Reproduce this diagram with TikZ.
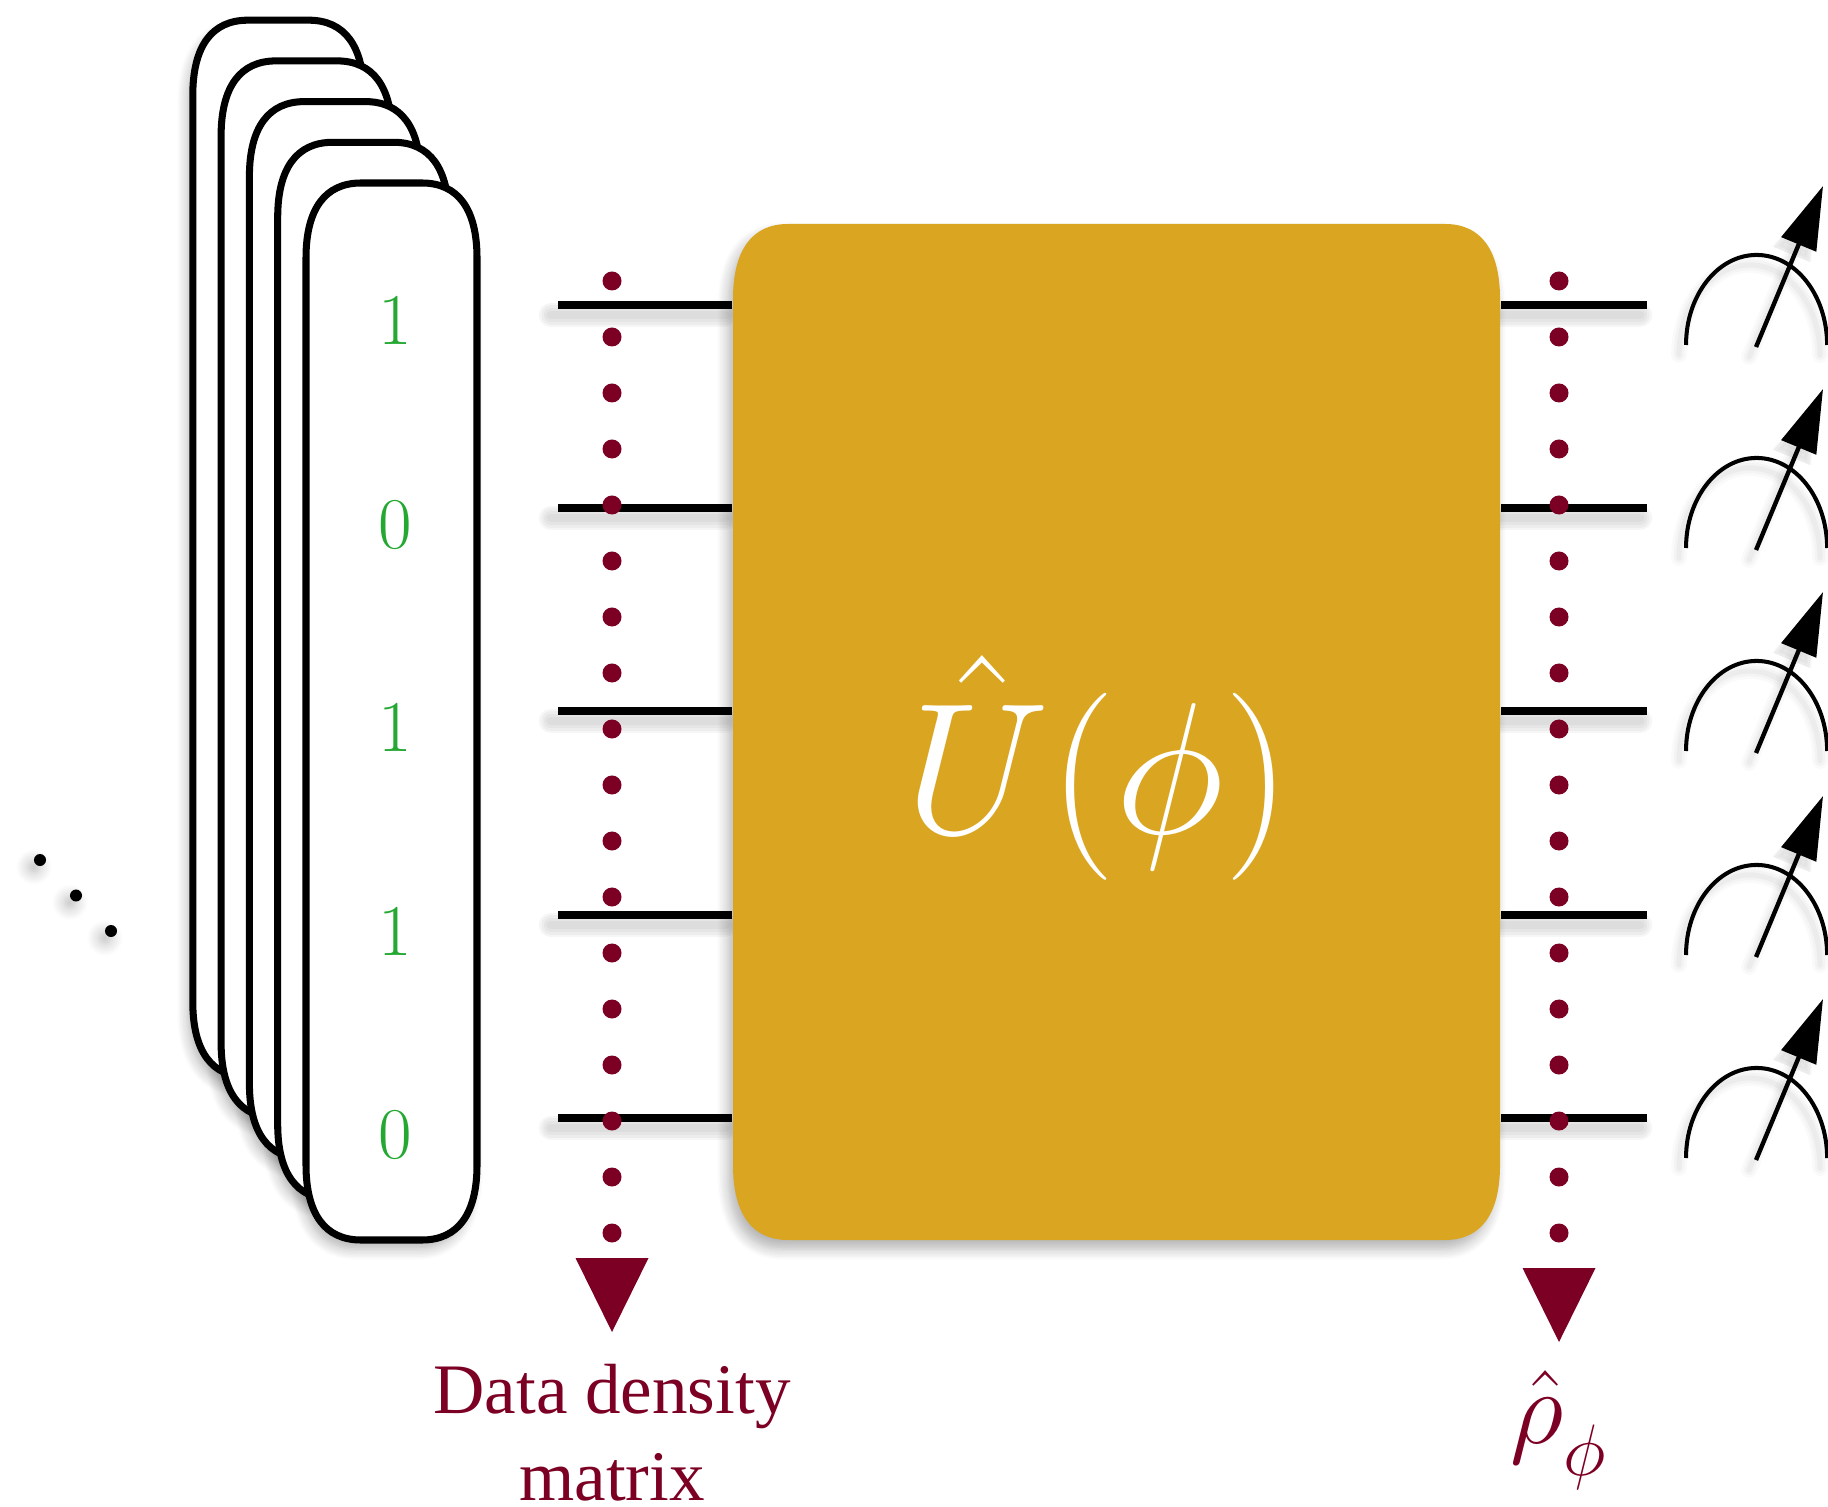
\documentclass[tikz,border=0pt]{standalone}
\usepackage{fontspec}
\usepackage{amsmath}
\setmainfont{Liberation Serif}
\usetikzlibrary{calc,arrows.meta,shadows.blur}
\definecolor{wine}{RGB}{124,0,35}
\definecolor{gatecolor}{RGB}{218,165,32}
\definecolor{bitgreen}{RGB}{36,168,50}
\DeclareMathSizes{24.88}{24.88}{17.28}{12}
\newcommand{\softbox}[4]{(#1,#2+75) .. controls (#1,#2+26) and (#1+19,#2) .. (#1+55,#2)
  -- (#3-55,#2) .. controls (#3-19,#2) and (#3,#2+26) .. (#3,#2+75)
  -- (#3,#4-75) .. controls (#3,#4-26) and (#3-19,#4) .. (#3-55,#4)
  -- (#1+55,#4) .. controls (#1+19,#4) and (#1,#4-26) .. (#1,#4-75) -- cycle}

\begin{document}
\begin{tikzpicture}[
  x=0.01cm, y=-0.01cm,
  softshadow/.style={blur shadow={shadow xshift=-0.05cm, shadow yshift=-0.09cm,
    shadow blur radius=0.11cm, shadow blur steps=8, shadow opacity=30}},
  softstroke/.style 2 args={preaction={draw=black, opacity=#2, line width=#1, line cap=round,
    transform canvas={xshift=-0.07cm, yshift=-0.1cm}}},
  lineshadow/.style={softstroke={7pt}{0.035}, softstroke={5.5pt}{0.035}, softstroke={4pt}{0.035}, softstroke={2.5pt}{0.035}},
  thinshadow/.style={softstroke={4.5pt}{0.02}, softstroke={3pt}{0.025}, softstroke={1.5pt}{0.03}},
  datacard/.style={draw, fill=white, line width=2pt},
  bitlabel/.style={text=bitgreen, inner sep=0pt, font=\fontsize{22}{26}\selectfont},
  gatebox/.style={fill=gatecolor, softshadow},
  wire/.style={line width=2pt, lineshadow},
  winedot/.style={circle, fill=wine, minimum size=0.19cm, inner sep=0pt},
  blackdot/.style={circle, fill=black, minimum size=0.12cm, inner sep=0pt,
    blur shadow={shadow xshift=-0.06cm, shadow yshift=-0.07cm,
    shadow blur radius=0.12cm, shadow blur steps=8, shadow opacity=25}},
  meterarc/.style={line width=1.15pt, thinshadow},
  meterneedle/.style={line width=1.25pt, thinshadow, -{Triangle[length=18pt, width=10.5pt, fill=black]}}
]
\useasboundingbox (0,0) rectangle (1828,1507);

\foreach \i/\x/\y in {1/40/860, 2/76/895.5, 3/111/931}
  \node[blackdot] (ell\i) at (\x,\y) {};

\foreach \i in {4,3,2,1,0}
  \path[fill=white, softshadow] \softbox{306-28.3*\i}{183-40.7*\i}{477-28.3*\i}{1240-40.7*\i};
\foreach \i in {4,3,2,1,0}
  \path[datacard] \softbox{306-28.3*\i}{183-40.7*\i}{477-28.3*\i}{1240-40.7*\i};

\foreach \i/\b/\y in {1/1/321, 2/0/525, 3/1/728, 4/1/932, 5/0/1135}
  \node[bitlabel] (bit\i) at (395,\y) {$\b$};

\node[inner sep=0pt, minimum width=7.67cm, minimum height=10.16cm] (gate) at (1116.5,732) {};

\foreach \i/\y in {1/305, 2/508, 3/711, 4/915, 5/1118} {
  \coordinate (wl\i) at (558,\y);
  \coordinate (wr\i) at (1647,\y);
  \draw[wire] (wl\i) -- (gate.west |- wl\i);
  \draw[wire] (gate.east |- wr\i) -- (wr\i);
  \coordinate (ms\i) at (1756,\y+42);
  \coordinate (mt\i) at (1823,\y-119);
  \draw[meterarc] (1686,\y+40) arc[start angle=180, end angle=0, x radius=0.705cm, y radius=0.9cm];
  \draw[meterneedle] (ms\i) -- (mt\i);
}

\path[gatebox] \softbox{733}{224}{1500}{1240};

\node[text=white, inner sep=0pt, anchor=base, scale=2.14,
  font=\fontsize{24.88}{30}\selectfont] (ulabel) at (1098,833) {$\hat{U}(\phi)$};

\foreach \i in {0,...,17} {
  \node[winedot] (dl\i) at (612,281+56*\i) {};
  \node[winedot] (dr\i) at (1559,281+56*\i) {};
}

\foreach \x/\y in {612/1258, 1559/1268}
  \fill[wine] (\x-36.5,\y) -- (\x+36.5,\y) -- (\x,\y+74) -- cycle;

\node[text=wine, align=center, inner sep=0pt, anchor=base,
  font=\fontsize{20.2}{24.7}\selectfont] (datalabel) at (612,1500) {Data density\\matrix};
\node[text=wine, inner sep=0pt, anchor=base, scale=1.2,
  font=\fontsize{24.88}{30}\selectfont] (rholabel) at (1559,1443) {$\hat{\rho}_{\raisebox{-4pt}{$\scriptstyle\phi$}}$};
\end{tikzpicture}
\end{document}
